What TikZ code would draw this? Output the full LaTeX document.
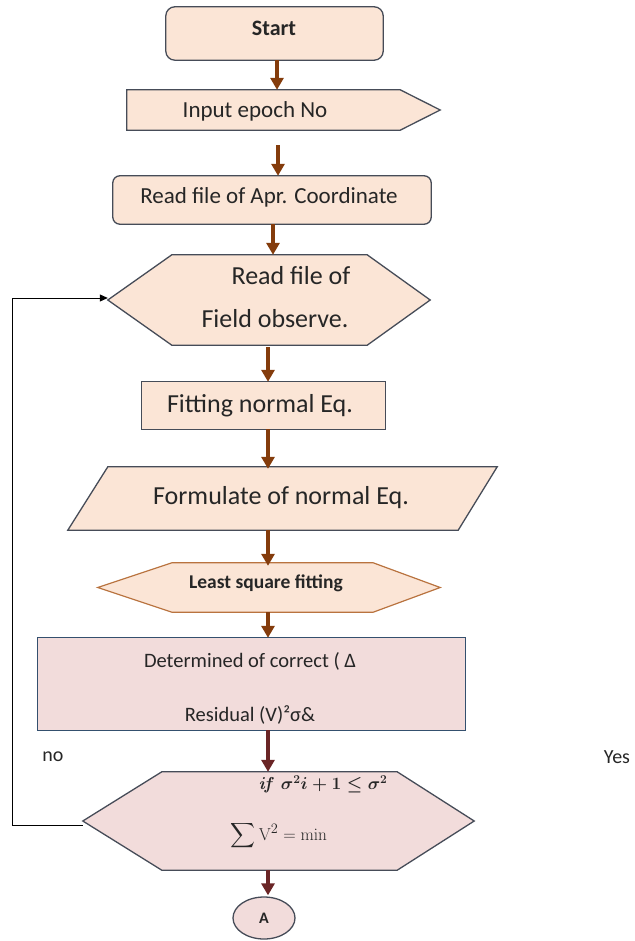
\documentclass[tikz,border=0pt]{standalone}
\usepackage{amsmath}
\usepackage[no-math]{fontspec}
\setmainfont{Carlito}
\usetikzlibrary{arrows.meta,shapes.geometric}

\definecolor{peach}{HTML}{FBE5D6}
\definecolor{rosy}{HTML}{F2DCDB}
\definecolor{edgegray}{HTML}{464C58}
\definecolor{edgenavy}{HTML}{34506E}
\definecolor{edgebrown}{HTML}{B9733F}
\definecolor{flowbrown}{HTML}{843C0C}
\definecolor{flowwine}{HTML}{6A2526}
\definecolor{inkc}{HTML}{262626}

\tikzset{
  frame/.style={inner sep=0pt, draw=none},
  outline/.style={draw=edgegray, line width=1.3pt, line join=miter, fill=peach},
  label/.style={inner sep=0pt, text=inkc, font=\fontsize{#1}{#1}\selectfont},
  flow/.style={line width=4pt, draw=flowbrown, -{Triangle[width=13pt,length=12pt]}},
  flowdark/.style={flow, draw=flowwine},
  loopline/.style={line width=1pt, draw=black},
}

\begin{document}
\begin{tikzpicture}[x=1pt,y=-1pt]
\useasboundingbox (0,0) rectangle (634,941);

% ---- shape frames (exact outlines) ----
\node[frame, minimum width=217pt, minimum height=53pt] (start) at (274.5,33.5) {};
\node[frame, minimum width=313pt, minimum height=40pt] (input) at (283.5,110) {};
\node[frame, minimum width=318pt, minimum height=48pt] (apr) at (272,200) {};
\node[frame, minimum width=322pt, minimum height=90pt] (field) at (269,300) {};
\node[frame, minimum width=243pt, minimum height=47pt] (fit) at (263.5,405.5) {};
\node[frame, minimum width=429pt, minimum height=63pt] (form) at (282.5,498.5) {};
\node[frame, minimum width=342pt, minimum height=49pt] (lsf) at (269,587.5) {};
\node[frame, minimum width=427pt, minimum height=92pt] (corr) at (251.5,684) {};
\node[frame, minimum width=391pt, minimum height=98pt] (dec) at (278.5,821) {};

% Start
\draw[outline, rounded corners=9pt] (start.north west) rectangle (start.south east);
% Input (pointed tag)
\draw[outline] (input.north west) -- ([xshift=-40pt]input.north east) -- (input.east)
  -- ([xshift=-40pt]input.south east) -- (input.south west) -- cycle;
% Approximate coordinates file
\draw[outline, rounded corners=7pt] (apr.north west) rectangle (apr.south east);
% Field observations (hexagon)
\draw[outline] (field.west) -- ([xshift=64pt]field.north west) -- ([xshift=-63pt]field.north east)
  -- (field.east) -- ([xshift=-63pt]field.south east) -- ([xshift=64pt]field.south west) -- cycle;
% Fitting
\draw[outline] (fit.north west) rectangle (fit.south east);
% Formulate (parallelogram)
\draw[outline] ([xshift=40pt]form.north west) -- (form.north east)
  -- ([xshift=-39pt]form.south east) -- (form.south west) -- cycle;
% Least square fitting (hexagon, brown edge)
\draw[outline, draw=edgebrown, line width=1.2pt] (lsf.west) -- ([xshift=74pt]lsf.north west)
  -- ([xshift=-67pt]lsf.north east) -- (lsf.east) -- ([xshift=-67pt]lsf.south east)
  -- ([xshift=74pt]lsf.south west) -- cycle;
% Corrections box
\draw[outline, draw=edgenavy, fill=rosy] (corr.north west) rectangle (corr.south east);
% Decision (hexagon)
\draw[outline, fill=rosy] (dec.west) -- ([xshift=79pt]dec.north west) -- ([xshift=-77pt]dec.north east)
  -- (dec.east) -- ([xshift=-77pt]dec.south east) -- ([xshift=79pt]dec.south west) -- cycle;
% Connector A
\node[ellipse, draw=edgegray, line width=1.3pt, fill=rosy, minimum width=62pt, minimum height=42pt,
  inner sep=0pt, font=\fontsize{16}{16}\selectfont\bfseries, text=inkc] (conA) at (264,918) {A};

% ---- texts ----
\node[label=22, font=\fontsize{22}{22}\selectfont\bfseries] (tstart) at (274,28) {Start};
\node[label=23] (tinput) at (255,111) {Input epoch No};
\node[label=23] (tapr) at (269,197) {Read file of Apr. Coordinate};
\node[label=26] (tfield1) at (291,276) {Read file of};
\node[label=26] (tfield2) at (275,319) {Field observe.};
\node[label=26] (tfit) at (260,406) {Fitting normal Eq.};
\node[label=26] (tform) at (281,498) {Formulate of normal Eq.};
\node[label=20, font=\fontsize{19.5}{19.5}\selectfont\bfseries] (tlsf) at (266,583) {Least square fitting};
\node[label=20.5] (tcorr1) at (250,661) {Determined of correct ( Δ};
\node[label=20.5] (tcorr2) at (250,715) {Residual (V)²σ\&};
\node[label=17] (tdec1) at (323,784) {$\boldsymbol{\mathit{if}\;\sigma^2 i+1\leq\sigma^2}$};
\node[label=19] (tdec2) at (279,836) {$\displaystyle\sum \mathrm{V}^2=\min$};
\node[label=20] (tno) at (53,757) {no};
\node[label=20] (tyes) at (617,757) {Yes};

% ---- connectors ----
\draw[flow] ([xshift=2.5pt]start.south) -- ([xshift=2.5pt]start.south |- input.north);
\draw[flow] ([xshift=-5.5pt,yshift=-15pt]input.south) -- ([xshift=-5.5pt]input.south |- apr.north);
\draw[flow] ([xshift=1pt]apr.south) -- ([xshift=1pt]apr.south |- field.north);
\draw[flow] ([xshift=-1pt,yshift=-2pt]field.south) -- ([xshift=-1pt]field.south |- fit.north);
\draw[flow] ([xshift=4.5pt]fit.south) -- ([xshift=4.5pt,yshift=-2pt]fit.south |- form.north);
\draw[flow] ([xshift=-14.5pt]form.south) -- ([xshift=-14.5pt,yshift=-3pt]form.south |- lsf.north);
\draw[flow] ([xshift=-1pt]lsf.south) -- ([xshift=-1pt]lsf.south |- corr.north);
\draw[flowdark] ([xshift=16.5pt]corr.south) -- ([xshift=16.5pt]corr.south |- dec.north);
\draw[flowdark] ([xshift=-10.5pt]dec.south) -- ([xshift=-10.5pt,yshift=1pt]dec.south |- conA.north);

% "no" feedback loop back to the field observations
\coordinate (loopx) at (12,0);
\draw[loopline, -{Triangle[width=7pt,length=8pt]}] ([yshift=-4pt]dec.west) -| ([yshift=2pt]loopx |- field.west) -- ([yshift=2pt]field.west);
\end{tikzpicture}
\end{document}
